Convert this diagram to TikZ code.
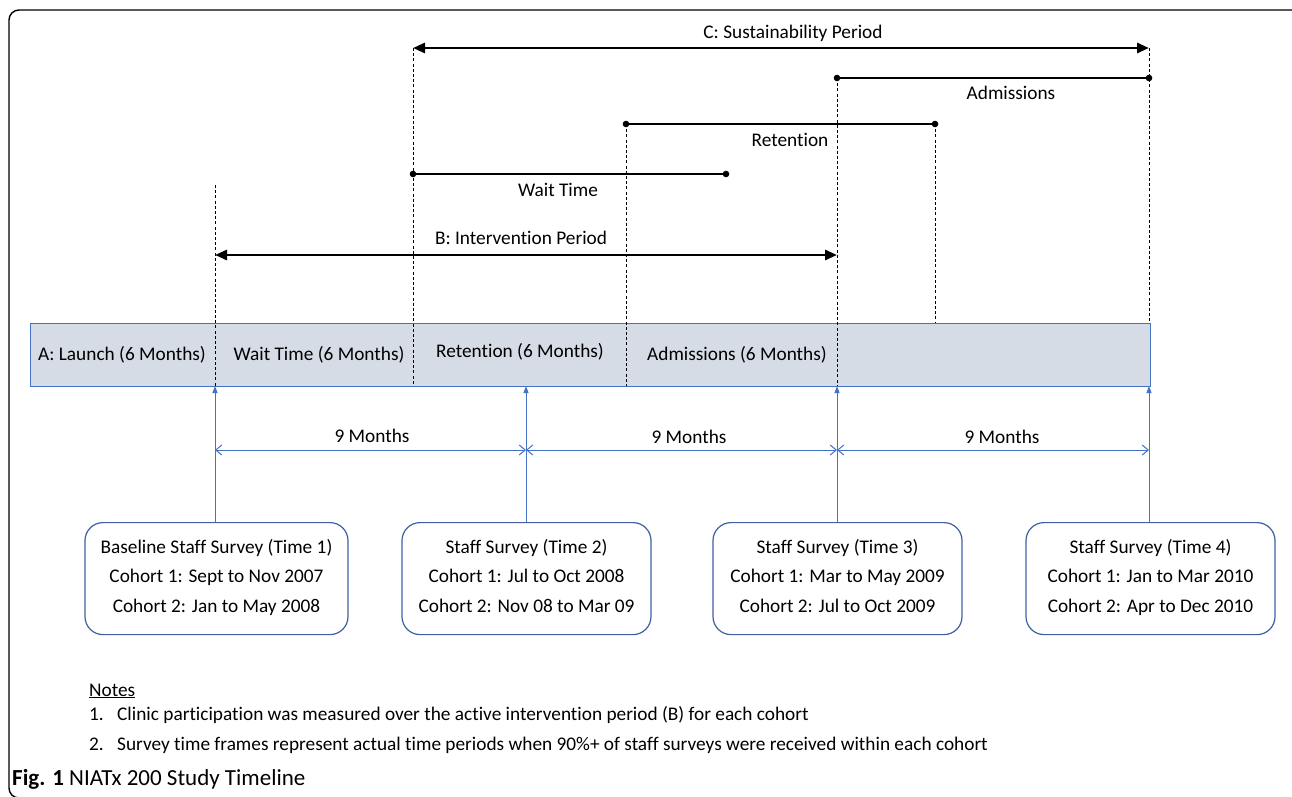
\documentclass[tikz,border=0pt]{standalone}
\usepackage{fontspec}
\setmainfont{Carlito}[Ligatures=NoCommon]
\usetikzlibrary{arrows.meta}
\definecolor{barfill}{HTML}{D6DCE5}
\definecolor{barline}{HTML}{4472C4}
\definecolor{boxline}{HTML}{3F5FA0}
\definecolor{arrblue}{HTML}{4472C4}
\begin{document}
\begin{tikzpicture}[x=1pt,y=-1pt,
  font=\fontsize{19.3}{23}\selectfont,
  dashline/.style={draw=black, line width=0.9pt, dash pattern=on 3pt off 2.2pt},
  bigarrow/.style={draw=black, line width=2.8pt, {Triangle[length=12pt,width=10pt]}-{Triangle[length=12pt,width=10pt]}},
  dotline/.style={draw=black, line width=1.5pt},
  dotend/.style={fill=black},
  bluearr/.style={draw=arrblue, line width=1pt, -{Triangle[length=7pt,width=5pt]}},
  spanarr/.style={draw=arrblue, line width=1pt, {Straight Barb[length=6pt,width=10pt,line width=1pt]}-{Straight Barb[length=6pt,width=10pt,line width=1pt]}},
  survey/.style={draw=boxline, line width=1.2pt, rounded corners=18pt, minimum height=112pt, align=center, font=\fontsize{19.3}{29.5}\selectfont, inner sep=0pt, execute at begin node={\rule{0pt}{20pt}}, execute at end node={\rule[-6pt]{0pt}{6pt}}},
  lbl/.style={inner sep=0pt},
  barlbl/.style={inner sep=0pt}
]
\useasboundingbox (0,0) rectangle (1292,797);
\clip (0,0) rectangle (1292,797);
\draw[line width=1.4pt, rounded corners=10pt] (9,10) rectangle (1302,798);

% bar
\node[draw=barline, fill=barfill, line width=1.1pt, minimum width=1120pt, minimum height=63pt, inner sep=0pt, anchor=north west] (bar) at (30,323) {};

% dashed guide coordinates
\coordinate (a1) at (215,185); \coordinate (a2) at (215,386);
\coordinate (b1) at (413,48);  \coordinate (b2) at (413,386);
\coordinate (c1) at (626,124); \coordinate (c2) at (626,386);
\coordinate (d1) at (837,78);  \coordinate (d2) at (837,386);
\coordinate (e1) at (935,124); \coordinate (e2) at (935,323);
\coordinate (f1) at (1149,48); \coordinate (f2) at (1149,323);
\draw[dashline] (a1) -- (a2);
\draw[dashline] (b1) -- (b2);
\draw[dashline] (c1) -- (c2);
\draw[dashline] (d1) -- (d2);
\draw[dashline] (e1) -- (e2);
\draw[dashline] (f1) -- (f2);

% bar labels
\node[barlbl] (lA) at (122,355) {A: Launch (6 Months)};
\node[barlbl] (lW) at (319,355) {Wait Time (6 Months)};
\node[barlbl] (lR) at (520,352) {Retention (6 Months)};
\node[barlbl] (lM) at (737,355) {Admissions (6 Months)};

% C sustainability
\coordinate (C1) at (413,48); \coordinate (C2) at (1149,48);
\draw[bigarrow] (C1) -- (C2);
\node[lbl] (Ct) at (793,33) {C: Sustainability Period};

% Admissions
\coordinate (M1) at (837,78); \coordinate (M2) at (1149,78);
\draw[dotline] (M1) -- (M2);
\fill[dotend] (M1) circle (3.3pt); \fill[dotend] (M2) circle (3.3pt);
\node[lbl] (Mt) at (1011,93) {Admissions};

% Retention
\coordinate (R1) at (626,124); \coordinate (R2) at (935,124);
\draw[dotline] (R1) -- (R2);
\fill[dotend] (R1) circle (3.3pt); \fill[dotend] (R2) circle (3.3pt);
\node[lbl] (Rt) at (790,140) {Retention};

% Wait time
\coordinate (W1) at (413,174); \coordinate (W2) at (726,174);
\draw[dotline] (W1) -- (W2);
\fill[dotend] (W1) circle (3.3pt); \fill[dotend] (W2) circle (3.3pt);
\node[lbl] (Wt) at (558,190) {Wait Time};

% B intervention
\coordinate (B1) at (215,255); \coordinate (B2) at (837,255);
\draw[bigarrow] (B1) -- (B2);
\node[lbl] (Bt) at (521,238) {B: Intervention Period};

% survey boxes
\node[survey, minimum width=263pt, anchor=north] (s1) at (216.5,522) {Baseline Staff Survey (Time 1)\\Cohort 1: Sept to Nov 2007\\Cohort 2: Jan to May 2008};
\node[survey, minimum width=249pt, anchor=north] (s2) at (526.5,522) {Staff Survey (Time 2)\\Cohort 1: Jul to Oct 2008\\Cohort 2: Nov 08 to Mar 09};
\node[survey, minimum width=249pt, anchor=north] (s3) at (837.5,522) {Staff Survey (Time 3)\\Cohort 1: Mar to May 2009\\Cohort 2: Jul to Oct 2009};
\node[survey, minimum width=249pt, anchor=north] (s4) at (1150.5,522) {Staff Survey (Time 4)\\Cohort 1: Jan to Mar 2010\\Cohort 2: Apr to Dec 2010};

% vertical blue arrows
\coordinate (v1b) at (215,522); \coordinate (v1t) at (215,386);
\coordinate (v2b) at (526,522); \coordinate (v2t) at (526,386);
\coordinate (v3b) at (837,522); \coordinate (v3t) at (837,386);
\coordinate (v4b) at (1149,522); \coordinate (v4t) at (1149,386);
\draw[bluearr] (v1b) -- (v1t);
\draw[bluearr] (v2b) -- (v2t);
\draw[bluearr] (v3b) -- (v3t);
\draw[bluearr] (v4b) -- (v4t);

% 9 months spans
\coordinate (h1) at (215,450); \coordinate (h2) at (526,450);
\coordinate (h3) at (837,450); \coordinate (h4) at (1149,450);
\draw[spanarr] (h1) -- (h2);
\draw[spanarr] (h2) -- (h3);
\draw[spanarr] (h3) -- (h4);
\node[lbl] (n1) at (372,436) {9 Months};
\node[lbl] (n2) at (689,437) {9 Months};
\node[lbl] (n3) at (1002,437) {9 Months};

% notes
\node[lbl, anchor=west] (notes) at (89,691) {\underline{Notes}};
\node[lbl, anchor=west] (note1) at (89,715) {\makebox[28pt][l]{1.}Clinic participation was measured over the active intervention period (B) for each cohort};
\node[lbl, anchor=west] (note2) at (89,745) {\makebox[28pt][l]{2.}Survey time frames represent actual time periods when 90\%+ of staff surveys were received within each cohort};

% caption
\node[lbl, anchor=west] (cap) at (12,779) {\fontsize{23}{27}\selectfont\textbf{Fig. 1} NIATx 200 Study Timeline};
\end{tikzpicture}
\end{document}
